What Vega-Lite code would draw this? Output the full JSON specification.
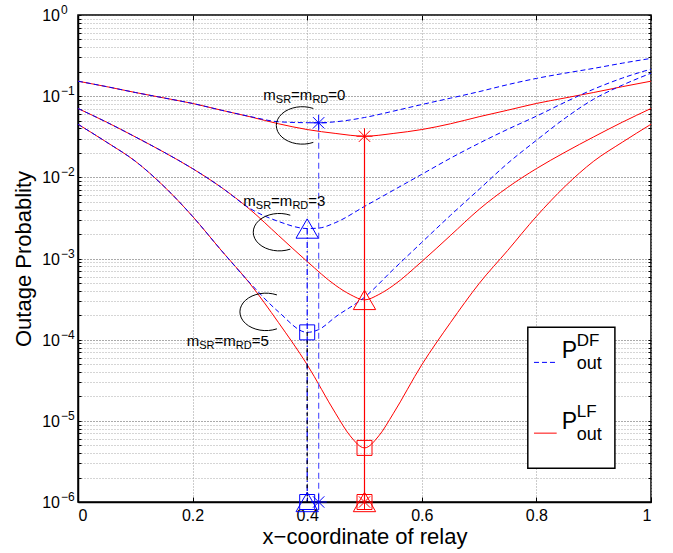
{
  "$schema": "https://vega.github.io/schema/vega-lite/v6.json",
  "width": 573,
  "height": 487,
  "autosize": {"type": "none"},
  "padding": {"left": 78, "top": 15, "right": 22, "bottom": 51},
  "background": "white",
  "config": {
    "view": {"stroke": "black", "strokeWidth": 1.5},
    "axis": {"labelFont": "Liberation Sans", "titleFont": "Liberation Sans", "labelColor": "black", "titleColor": "black", "titleFontWeight": "normal", "domainColor": "black", "tickColor": "black", "domainWidth": 1.5},
    "text": {"font": "Liberation Sans", "color": "black"}
  },
  "datasets": {
    "curves": [
      {"x": 0, "p": 0.153, "s": "LF", "m": 0}, {"x": 0.05, "p": 0.131, "s": "LF", "m": 0}, {"x": 0.1, "p": 0.111, "s": "LF", "m": 0}, {"x": 0.15, "p": 0.0951, "s": "LF", "m": 0}, {"x": 0.2, "p": 0.0813, "s": "LF", "m": 0}, {"x": 0.25, "p": 0.0672, "s": "LF", "m": 0}, {"x": 0.3, "p": 0.0558, "s": "LF", "m": 0}, {"x": 0.35, "p": 0.0457, "s": "LF", "m": 0}, {"x": 0.4, "p": 0.0388, "s": "LF", "m": 0}, {"x": 0.45, "p": 0.0347, "s": "LF", "m": 0}, {"x": 0.5, "p": 0.0321, "s": "LF", "m": 0}, {"x": 0.55, "p": 0.0347, "s": "LF", "m": 0}, {"x": 0.6, "p": 0.0388, "s": "LF", "m": 0}, {"x": 0.65, "p": 0.0457, "s": "LF", "m": 0}, {"x": 0.7, "p": 0.0558, "s": "LF", "m": 0}, {"x": 0.75, "p": 0.0672, "s": "LF", "m": 0}, {"x": 0.8, "p": 0.0813, "s": "LF", "m": 0}, {"x": 0.85, "p": 0.0951, "s": "LF", "m": 0}, {"x": 0.9, "p": 0.111, "s": "LF", "m": 0}, {"x": 0.95, "p": 0.131, "s": "LF", "m": 0}, {"x": 1, "p": 0.153, "s": "LF", "m": 0},
      {"x": 0, "p": 0.153, "s": "DF", "m": 0}, {"x": 0.05, "p": 0.131, "s": "DF", "m": 0}, {"x": 0.1, "p": 0.111, "s": "DF", "m": 0}, {"x": 0.15, "p": 0.0951, "s": "DF", "m": 0}, {"x": 0.2, "p": 0.0813, "s": "DF", "m": 0}, {"x": 0.25, "p": 0.0672, "s": "DF", "m": 0}, {"x": 0.3, "p": 0.0562, "s": "DF", "m": 0}, {"x": 0.35, "p": 0.0484, "s": "DF", "m": 0}, {"x": 0.4, "p": 0.0471, "s": "DF", "m": 0}, {"x": 0.42, "p": 0.047, "s": "DF", "m": 0}, {"x": 0.45, "p": 0.0484, "s": "DF", "m": 0}, {"x": 0.5, "p": 0.0546, "s": "DF", "m": 0}, {"x": 0.55, "p": 0.0653, "s": "DF", "m": 0}, {"x": 0.6, "p": 0.0789, "s": "DF", "m": 0}, {"x": 0.65, "p": 0.0945, "s": "DF", "m": 0}, {"x": 0.7, "p": 0.1137, "s": "DF", "m": 0}, {"x": 0.75, "p": 0.1387, "s": "DF", "m": 0}, {"x": 0.8, "p": 0.1655, "s": "DF", "m": 0}, {"x": 0.85, "p": 0.192, "s": "DF", "m": 0}, {"x": 0.9, "p": 0.22, "s": "DF", "m": 0}, {"x": 0.95, "p": 0.255, "s": "DF", "m": 0}, {"x": 1, "p": 0.292, "s": "DF", "m": 0},
      {"x": 0, "p": 0.0705, "s": "LF", "m": 3}, {"x": 0.05, "p": 0.0478, "s": "LF", "m": 3}, {"x": 0.1, "p": 0.0315, "s": "LF", "m": 3}, {"x": 0.15, "p": 0.0204, "s": "LF", "m": 3}, {"x": 0.2, "p": 0.0128, "s": "LF", "m": 3}, {"x": 0.25, "p": 0.00753, "s": "LF", "m": 3}, {"x": 0.3, "p": 0.00403, "s": "LF", "m": 3}, {"x": 0.35, "p": 0.00192, "s": "LF", "m": 3}, {"x": 0.4, "p": 0.000918, "s": "LF", "m": 3}, {"x": 0.45, "p": 0.000464, "s": "LF", "m": 3}, {"x": 0.475, "p": 0.00036, "s": "LF", "m": 3}, {"x": 0.5, "p": 0.000309, "s": "LF", "m": 3}, {"x": 0.525, "p": 0.00036, "s": "LF", "m": 3}, {"x": 0.55, "p": 0.000464, "s": "LF", "m": 3}, {"x": 0.6, "p": 0.000918, "s": "LF", "m": 3}, {"x": 0.65, "p": 0.00192, "s": "LF", "m": 3}, {"x": 0.7, "p": 0.00403, "s": "LF", "m": 3}, {"x": 0.75, "p": 0.00753, "s": "LF", "m": 3}, {"x": 0.8, "p": 0.0128, "s": "LF", "m": 3}, {"x": 0.85, "p": 0.0204, "s": "LF", "m": 3}, {"x": 0.9, "p": 0.0315, "s": "LF", "m": 3}, {"x": 0.95, "p": 0.0478, "s": "LF", "m": 3}, {"x": 1, "p": 0.0705, "s": "LF", "m": 3},
      {"x": 0, "p": 0.0705, "s": "DF", "m": 3}, {"x": 0.05, "p": 0.0478, "s": "DF", "m": 3}, {"x": 0.1, "p": 0.0315, "s": "DF", "m": 3}, {"x": 0.15, "p": 0.0204, "s": "DF", "m": 3}, {"x": 0.2, "p": 0.0128, "s": "DF", "m": 3}, {"x": 0.25, "p": 0.00753, "s": "DF", "m": 3}, {"x": 0.3, "p": 0.00414, "s": "DF", "m": 3}, {"x": 0.35, "p": 0.00286, "s": "DF", "m": 3}, {"x": 0.4, "p": 0.00234, "s": "DF", "m": 3}, {"x": 0.42, "p": 0.00237, "s": "DF", "m": 3}, {"x": 0.45, "p": 0.00278, "s": "DF", "m": 3}, {"x": 0.5, "p": 0.00438, "s": "DF", "m": 3}, {"x": 0.55, "p": 0.00691, "s": "DF", "m": 3}, {"x": 0.6, "p": 0.0109, "s": "DF", "m": 3}, {"x": 0.65, "p": 0.0172, "s": "DF", "m": 3}, {"x": 0.7, "p": 0.0263, "s": "DF", "m": 3}, {"x": 0.75, "p": 0.0391, "s": "DF", "m": 3}, {"x": 0.8, "p": 0.0567, "s": "DF", "m": 3}, {"x": 0.85, "p": 0.0843, "s": "DF", "m": 3}, {"x": 0.9, "p": 0.122, "s": "DF", "m": 3}, {"x": 0.95, "p": 0.167, "s": "DF", "m": 3}, {"x": 1, "p": 0.2155, "s": "DF", "m": 3},
      {"x": 0, "p": 0.0451, "s": "LF", "m": 5}, {"x": 0.05, "p": 0.0271, "s": "LF", "m": 5}, {"x": 0.1, "p": 0.0158, "s": "LF", "m": 5}, {"x": 0.15, "p": 0.00774, "s": "LF", "m": 5}, {"x": 0.2, "p": 0.0033, "s": "LF", "m": 5}, {"x": 0.25, "p": 0.00126, "s": "LF", "m": 5}, {"x": 0.3, "p": 0.000491, "s": "LF", "m": 5}, {"x": 0.35, "p": 0.000162, "s": "LF", "m": 5}, {"x": 0.4, "p": 0.0000491, "s": "LF", "m": 5}, {"x": 0.45, "p": 0.0000122, "s": "LF", "m": 5}, {"x": 0.475, "p": 0.00000653, "s": "LF", "m": 5}, {"x": 0.5, "p": 0.00000464, "s": "LF", "m": 5}, {"x": 0.525, "p": 0.00000653, "s": "LF", "m": 5}, {"x": 0.55, "p": 0.0000122, "s": "LF", "m": 5}, {"x": 0.6, "p": 0.0000491, "s": "LF", "m": 5}, {"x": 0.65, "p": 0.000162, "s": "LF", "m": 5}, {"x": 0.7, "p": 0.000491, "s": "LF", "m": 5}, {"x": 0.75, "p": 0.00126, "s": "LF", "m": 5}, {"x": 0.8, "p": 0.0033, "s": "LF", "m": 5}, {"x": 0.85, "p": 0.00774, "s": "LF", "m": 5}, {"x": 0.9, "p": 0.0158, "s": "LF", "m": 5}, {"x": 0.95, "p": 0.0271, "s": "LF", "m": 5}, {"x": 1, "p": 0.0451, "s": "LF", "m": 5},
      {"x": 0, "p": 0.0451, "s": "DF", "m": 5}, {"x": 0.05, "p": 0.0271, "s": "DF", "m": 5}, {"x": 0.1, "p": 0.0158, "s": "DF", "m": 5}, {"x": 0.15, "p": 0.00774, "s": "DF", "m": 5}, {"x": 0.2, "p": 0.0033, "s": "DF", "m": 5}, {"x": 0.25, "p": 0.00126, "s": "DF", "m": 5}, {"x": 0.3, "p": 0.0005, "s": "DF", "m": 5}, {"x": 0.35, "p": 0.00022, "s": "DF", "m": 5}, {"x": 0.4, "p": 0.000123, "s": "DF", "m": 5}, {"x": 0.42, "p": 0.000133, "s": "DF", "m": 5}, {"x": 0.45, "p": 0.000192, "s": "DF", "m": 5}, {"x": 0.5, "p": 0.000333, "s": "DF", "m": 5}, {"x": 0.55, "p": 0.00073, "s": "DF", "m": 5}, {"x": 0.6, "p": 0.00158, "s": "DF", "m": 5}, {"x": 0.65, "p": 0.0034, "s": "DF", "m": 5}, {"x": 0.7, "p": 0.00711, "s": "DF", "m": 5}, {"x": 0.75, "p": 0.0149, "s": "DF", "m": 5}, {"x": 0.8, "p": 0.0286, "s": "DF", "m": 5}, {"x": 0.85, "p": 0.0535, "s": "DF", "m": 5}, {"x": 0.9, "p": 0.0918, "s": "DF", "m": 5}, {"x": 0.95, "p": 0.1367, "s": "DF", "m": 5}, {"x": 1, "p": 0.192, "s": "DF", "m": 5}
    ],
    "vlines": [
      {"x": 0.4, "p1": 0.00234, "p2": 0.000001, "k": "b"},
      {"x": 0.4, "p1": 0.000123, "p2": 0.000001, "k": "c"},
      {"x": 0.42, "p1": 0.047, "p2": 0.000001, "k": "a"},
      {"x": 0.5, "p1": 0.0321, "p2": 0.000001, "k": "d"}
    ],
    "markers": [
      {"x": 0.42, "p": 0.047, "s": "DF", "shape": "star"},
      {"x": 0.4, "p": 0.00234, "s": "DF", "shape": "tri"},
      {"x": 0.4, "p": 0.000123, "s": "DF", "shape": "sq"},
      {"x": 0.42, "p": 0.000001, "s": "DF", "shape": "star"},
      {"x": 0.4, "p": 0.000001, "s": "DF", "shape": "tri"},
      {"x": 0.4, "p": 0.000001, "s": "DF", "shape": "sq"},
      {"x": 0.5, "p": 0.0321, "s": "LF", "shape": "star"},
      {"x": 0.5, "p": 0.000309, "s": "LF", "shape": "tri"},
      {"x": 0.5, "p": 0.00000464, "s": "LF", "shape": "sq"},
      {"x": 0.5, "p": 0.000001, "s": "LF", "shape": "star"},
      {"x": 0.5, "p": 0.000001, "s": "LF", "shape": "tri"},
      {"x": 0.5, "p": 0.000001, "s": "LF", "shape": "sq"}
    ],
    "arcs": [
      {"x": 0.3915, "p": 0.0436},
      {"x": 0.3513, "p": 0.00211},
      {"x": 0.328, "p": 0.00022}
    ],
    "notes": [
      {"x": 0.3234, "p": 0.0893, "n": "=0"},
      {"x": 0.2885, "p": 0.00442, "n": "=3"},
      {"x": 0.1897, "p": 0.0000826, "n": "=5"}
    ],
    "ylabels": [
      {"p": 1, "e": "0"}, {"p": 0.1, "e": "−1"}, {"p": 0.01, "e": "−2"}, {"p": 0.001, "e": "−3"}, {"p": 0.0001, "e": "−4"}, {"p": 0.00001, "e": "−5"}, {"p": 0.000001, "e": "−6"}
    ],
    "legbox": [{"x1": 0.785, "x2": 0.937, "p1": 0.000142, "p2": 0.00000261}],
    "legend": [
      {"s": "DF", "x": 0.7958, "x2": 0.8354, "p": 0.0000525, "sup": "DF"},
      {"s": "LF", "x": 0.7958, "x2": 0.8354, "p": 0.00000705, "sup": "LF"}
    ]
  },
  "resolve": {"axis": {"x": "independent", "y": "independent"}, "scale": {"color": "independent", "strokeDash": "independent", "shape": "independent", "size": "independent"}},
  "layer": [
    {
      "data": {"name": "curves"},
      "transform": [{"filter": "datum.s === 'LF'"}],
      "mark": {"type": "line", "interpolate": "monotone", "strokeWidth": 1, "color": "#ff0000"},
      "encoding": {
        "x": {"field": "x", "type": "quantitative", "scale": {"domain": [0, 1], "nice": false, "zero": false},
          "axis": {"orient": "bottom", "values": [0, 0.2, 0.4, 0.6, 0.8, 1], "format": "~g", "labelFontSize": 16, "labelPadding": 10, "tickSize": -5, "grid": true, "gridDash": [1, 2], "gridColor": "#999999", "title": "x−coordinate of relay", "titleFontSize": 22, "titlePadding": 3}},
        "y": {"field": "p", "type": "quantitative", "scale": {"type": "log", "domain": [0.000001, 1], "nice": false},
          "axis": {"orient": "left", "values": [0.000001, 0.000002, 0.000003, 0.000004, 0.000005, 0.000006, 0.000007, 0.000008, 0.000009, 0.00001, 0.00002, 0.00003, 0.00004, 0.00005, 0.00006, 0.00007, 0.00008, 0.00009, 0.0001, 0.0002, 0.0003, 0.0004, 0.0005, 0.0006, 0.0007, 0.0008, 0.0009, 0.001, 0.002, 0.003, 0.004, 0.005, 0.006, 0.007, 0.008, 0.009, 0.01, 0.02, 0.03, 0.04, 0.05, 0.06, 0.07, 0.08, 0.09, 0.1, 0.2, 0.3, 0.4, 0.5, 0.6, 0.7, 0.8, 0.9, 1],
            "labels": false, "tickSize": -3, "grid": true, "gridDash": [1, 2],
            "gridColor": {"condition": {"test": "indexof([1, 0.1, 0.01, 0.001, 0.0001, 0.00001, 0.000001], datum.value) >= 0", "value": "#555555"}, "value": "#aaaaaa"},
            "title": "Outage Probablity", "titleFontSize": 22, "titlePadding": 42}},
        "detail": {"field": "m", "type": "nominal"}
      }
    },
    {
      "data": {"name": "curves"},
      "transform": [{"filter": "datum.s === 'DF'"}],
      "mark": {"type": "line", "interpolate": "monotone", "strokeWidth": 1, "color": "#0000ff", "strokeDash": [5, 3]},
      "encoding": {
        "x": {"field": "x", "type": "quantitative", "axis": null},
        "y": {"field": "p", "type": "quantitative", "axis": null},
        "detail": {"field": "m", "type": "nominal"}
      }
    },
    {
      "data": {"name": "vlines"},
      "mark": {"type": "rule", "strokeWidth": 1.2},
      "encoding": {
        "x": {"field": "x", "type": "quantitative",
          "axis": {"orient": "top", "values": [0, 0.2, 0.4, 0.6, 0.8, 1], "labels": false, "tickSize": -5, "grid": false, "title": null, "domain": false}},
        "y": {"field": "p1", "type": "quantitative",
          "axis": {"orient": "right", "values": [0.000001, 0.000002, 0.000003, 0.000004, 0.000005, 0.000006, 0.000007, 0.000008, 0.000009, 0.00001, 0.00002, 0.00003, 0.00004, 0.00005, 0.00006, 0.00007, 0.00008, 0.00009, 0.0001, 0.0002, 0.0003, 0.0004, 0.0005, 0.0006, 0.0007, 0.0008, 0.0009, 0.001, 0.002, 0.003, 0.004, 0.005, 0.006, 0.007, 0.008, 0.009, 0.01, 0.02, 0.03, 0.04, 0.05, 0.06, 0.07, 0.08, 0.09, 0.1, 0.2, 0.3, 0.4, 0.5, 0.6, 0.7, 0.8, 0.9, 1], "labels": false, "tickSize": -3, "grid": false, "title": null, "domain": false}},
        "y2": {"field": "p2"},
        "color": {"field": "k", "type": "nominal", "scale": {"domain": ["a", "b", "c", "d"], "range": ["#5c5cff", "#0000ff", "#000000", "#ff0000"]}, "legend": null},
        "strokeDash": {"field": "k", "type": "nominal", "scale": {"domain": ["a", "b", "c", "d"], "range": [[6, 4], [6, 3, 1.5, 3], [4, 4], [1, 0]]}, "legend": null}
      }
    },
    {
      "data": {"name": "markers"},
      "mark": {"type": "point", "filled": false, "strokeWidth": 1, "opacity": 1},
      "encoding": {
        "x": {"field": "x", "type": "quantitative", "axis": null},
        "y": {"field": "p", "type": "quantitative", "axis": null},
        "color": {"field": "s", "type": "nominal", "scale": {"domain": ["DF", "LF"], "range": ["#0000ff", "#ff0000"]}, "legend": null},
        "shape": {"field": "shape", "type": "nominal", "scale": {"domain": ["star", "tri", "sq"], "range": ["M0,-1L0,1M-1,0L1,0M-0.71,-0.71L0.71,0.71M-0.71,0.71L0.71,-0.71", "triangle-up", "square"]}, "legend": null},
        "size": {"field": "shape", "type": "nominal", "scale": {"type": "ordinal", "domain": ["star", "tri", "sq"], "range": [256, 500, 225]}, "legend": null}
      }
    },
    {
      "data": {"name": "arcs"},
      "mark": {"type": "point", "shape": "M 0.423 -0.652 A 1 0.72 0 1 0 0.423 0.652", "filled": false, "color": "black", "strokeWidth": 1, "size": 2704, "opacity": 1},
      "encoding": {
        "x": {"field": "x", "type": "quantitative", "axis": null},
        "y": {"field": "p", "type": "quantitative", "axis": null}
      }
    },
    {
      "data": {"name": "notes"},
      "mark": {"type": "text", "text": "m", "fontSize": 15, "align": "left", "baseline": "alphabetic"},
      "encoding": {"x": {"field": "x", "type": "quantitative", "axis": null}, "y": {"field": "p", "type": "quantitative", "axis": null}}
    },
    {
      "data": {"name": "notes"},
      "mark": {"type": "text", "text": "SR", "fontSize": 11, "align": "left", "baseline": "alphabetic", "dx": 12.5, "dy": 3},
      "encoding": {"x": {"field": "x", "type": "quantitative", "axis": null}, "y": {"field": "p", "type": "quantitative", "axis": null}}
    },
    {
      "data": {"name": "notes"},
      "mark": {"type": "text", "text": "=m", "fontSize": 15, "align": "left", "baseline": "alphabetic", "dx": 27.8},
      "encoding": {"x": {"field": "x", "type": "quantitative", "axis": null}, "y": {"field": "p", "type": "quantitative", "axis": null}}
    },
    {
      "data": {"name": "notes"},
      "mark": {"type": "text", "text": "RD", "fontSize": 11, "align": "left", "baseline": "alphabetic", "dx": 49.1, "dy": 3},
      "encoding": {"x": {"field": "x", "type": "quantitative", "axis": null}, "y": {"field": "p", "type": "quantitative", "axis": null}}
    },
    {
      "data": {"name": "notes"},
      "mark": {"type": "text", "fontSize": 15, "align": "left", "baseline": "alphabetic", "dx": 65},
      "encoding": {"x": {"field": "x", "type": "quantitative", "axis": null}, "y": {"field": "p", "type": "quantitative", "axis": null}, "text": {"field": "n"}}
    },
    {
      "data": {"name": "ylabels"},
      "mark": {"type": "text", "text": "10", "fontSize": 16, "align": "right", "baseline": "middle", "dx": -18, "dy": 1},
      "encoding": {"x": {"datum": 0, "type": "quantitative", "axis": null}, "y": {"field": "p", "type": "quantitative", "axis": null}}
    },
    {
      "data": {"name": "ylabels"},
      "mark": {"type": "text", "fontSize": 12, "align": "left", "baseline": "middle", "dx": -17, "dy": -5},
      "encoding": {"x": {"datum": 0, "type": "quantitative", "axis": null}, "y": {"field": "p", "type": "quantitative", "axis": null}, "text": {"field": "e"}}
    },
    {
      "data": {"name": "legbox"},
      "mark": {"type": "rect", "fill": "white", "stroke": "black", "strokeWidth": 1.5},
      "encoding": {
        "x": {"field": "x1", "type": "quantitative", "axis": null}, "x2": {"field": "x2"},
        "y": {"field": "p1", "type": "quantitative", "axis": null}, "y2": {"field": "p2"}
      }
    },
    {
      "data": {"name": "legend"},
      "mark": {"type": "rule", "strokeWidth": 1},
      "encoding": {
        "x": {"field": "x", "type": "quantitative", "axis": null}, "x2": {"field": "x2"},
        "y": {"field": "p", "type": "quantitative", "axis": null},
        "color": {"field": "s", "type": "nominal", "scale": {"domain": ["DF", "LF"], "range": ["#0000ff", "#ff0000"]}, "legend": null},
        "strokeDash": {"field": "s", "type": "nominal", "scale": {"domain": ["DF", "LF"], "range": [[5, 3], [1, 0]]}, "legend": null}
      }
    },
    {
      "data": {"name": "legend"},
      "mark": {"type": "text", "text": "P", "fontSize": 23, "align": "left", "baseline": "alphabetic", "dx": 27.7, "dy": -4.5},
      "encoding": {"x": {"field": "x", "type": "quantitative", "axis": null}, "y": {"field": "p", "type": "quantitative", "axis": null}}
    },
    {
      "data": {"name": "legend"},
      "mark": {"type": "text", "fontSize": 17, "align": "left", "baseline": "alphabetic", "dx": 42.7, "dy": -16},
      "encoding": {"x": {"field": "x", "type": "quantitative", "axis": null}, "y": {"field": "p", "type": "quantitative", "axis": null}, "text": {"field": "sup"}}
    },
    {
      "data": {"name": "legend"},
      "mark": {"type": "text", "text": "out", "fontSize": 18, "align": "left", "baseline": "alphabetic", "dx": 42.7, "dy": 7},
      "encoding": {"x": {"field": "x", "type": "quantitative", "axis": null}, "y": {"field": "p", "type": "quantitative", "axis": null}}
    }
  ]
}
